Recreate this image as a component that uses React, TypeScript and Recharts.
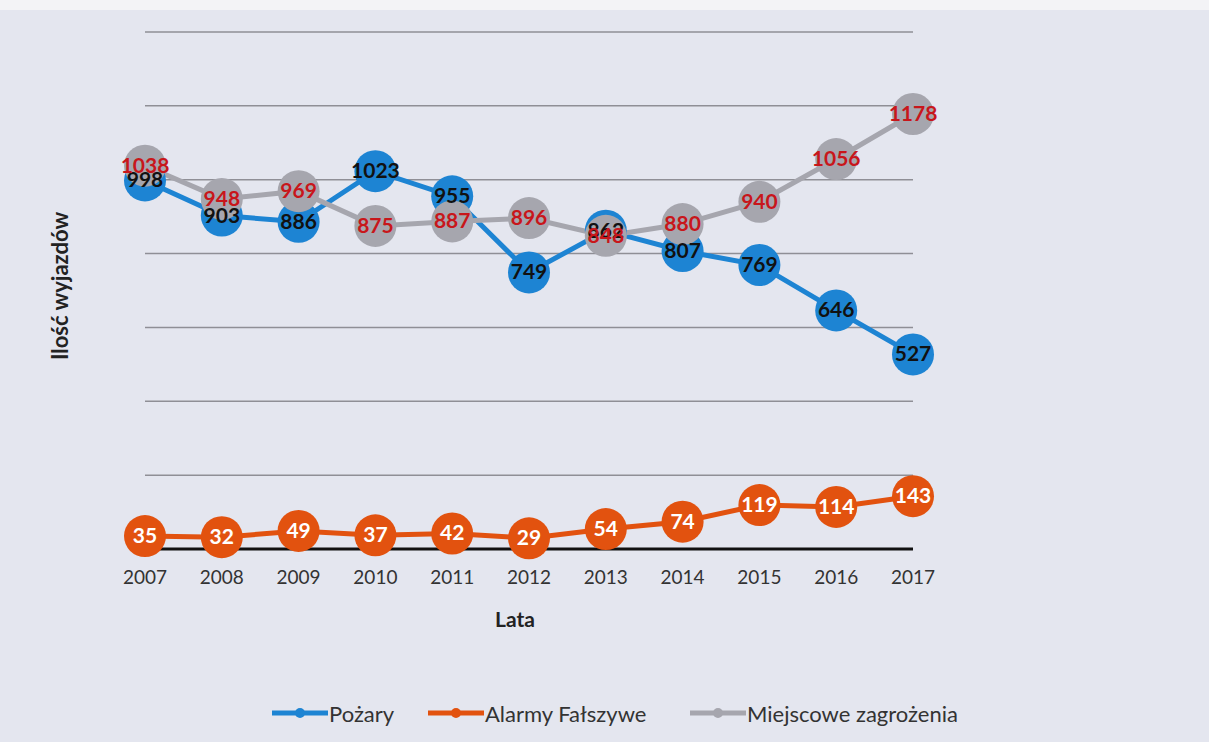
import React from 'react';
import { LineChart, Line, XAxis, YAxis, CartesianGrid, LabelList } from 'recharts';

const years = ['2007', '2008', '2009', '2010', '2011', '2012', '2013', '2014', '2015', '2016', '2017'];
const pozary = [998, 903, 886, 1023, 955, 749, 862, 807, 769, 646, 527];
const alarmy = [35, 32, 49, 37, 42, 29, 54, 74, 119, 114, 143];
const miejscowe = [1038, 948, 969, 875, 887, 896, 848, 880, 940, 1056, 1178];
const yTicks = [0, 200, 400, 600, 800, 1000, 1200, 1400];

const BLUE = '#1d84d3';
const ORANGE = '#e2520f';
const GREY = '#a6a6ae';
const FONT = 'Lato, "Open Sans", sans-serif';

const data = years.map((y, i) => ({
  year: y,
  pozary: pozary[i],
  alarmy: alarmy[i],
  miejscowe: miejscowe[i],
}));

const makeLabel = (color: string) => (props: any) => (
  <text
    x={props.x}
    y={props.y}
    dy={7}
    textAnchor="middle"
    fill={color}
    fontSize={21}
    fontWeight={700}
    fontFamily={FONT}
  >
    {props.value}
  </text>
);

const legendItems = [
  { name: 'Pożary', color: BLUE, left: 272 },
  { name: 'Alarmy Fałszywe', color: ORANGE, left: 428 },
  { name: 'Miejscowe zagrożenia', color: GREY, left: 690 },
];

const App: React.FC = () => {
  return (
    <div style={{ position: 'absolute', left: 0, top: 0, width: 1209, height: 742, background: '#e4e6ef', fontFamily: FONT, overflow: 'hidden' }}>
      <div style={{ position: 'absolute', left: 0, top: 0, width: 1209, height: 10, background: '#f3f3f6' }} />
      <LineChart width={1209} height={742} data={data} margin={{ top: 32, right: 296, bottom: 163, left: 145 }}>
        <CartesianGrid vertical={false} stroke="#8f8f96" strokeWidth={1.5} />
        <XAxis
          dataKey="year"
          axisLine={{ stroke: '#111', strokeWidth: 3 }}
          tickLine={false}
          tickMargin={16}
          tick={{ fill: '#333', fontSize: 19, fontFamily: FONT }}
        />
        <YAxis hide domain={[0, 1400]} ticks={yTicks} />
        <Line dataKey="pozary" stroke={BLUE} strokeWidth={5} dot={{ r: 21, fill: BLUE, stroke: 'none' }} activeDot={false} isAnimationActive={false} />
        <Line dataKey="alarmy" stroke={ORANGE} strokeWidth={5} dot={{ r: 21, fill: ORANGE, stroke: 'none' }} activeDot={false} isAnimationActive={false} />
        <Line dataKey="miejscowe" stroke={GREY} strokeWidth={5} dot={{ r: 21, fill: GREY, stroke: 'none' }} activeDot={false} isAnimationActive={false} />
        <Line dataKey="pozary" stroke="none" dot={false} activeDot={false} legendType="none" isAnimationActive={false}>
          <LabelList dataKey="pozary" content={makeLabel('#111')} />
        </Line>
        <Line dataKey="alarmy" stroke="none" dot={false} activeDot={false} legendType="none" isAnimationActive={false}>
          <LabelList dataKey="alarmy" content={makeLabel('#fff')} />
        </Line>
        <Line dataKey="miejscowe" stroke="none" dot={false} activeDot={false} legendType="none" isAnimationActive={false}>
          <LabelList dataKey="miejscowe" content={makeLabel('#c8161b')} />
        </Line>
        <text x={62} y={286} transform="rotate(-90 62 286)" textAnchor="middle" dominantBaseline="middle" fontSize={22} fontWeight={700} fill="#222" fontFamily={FONT}>
          Ilość wyjazdów
        </text>
        <text x={515} y={622} textAnchor="middle" dominantBaseline="middle" fontSize={21} fontWeight={700} fill="#222" fontFamily={FONT}>
          Lata
        </text>
      </LineChart>
      {legendItems.map((it) => (
        <div key={it.name} style={{ position: 'absolute', left: it.left, top: 700, height: 26, display: 'flex', alignItems: 'center' }}>
          <svg width={56} height={26}>
            <line x1={0} y1={13} x2={56} y2={13} stroke={it.color} strokeWidth={5} />
            <circle cx={28} cy={13} r={5} fill={it.color} />
          </svg>
          <span style={{ fontSize: 22, color: '#333', marginLeft: 1 }}>{it.name}</span>
        </div>
      ))}
    </div>
  );
};

export default App;
